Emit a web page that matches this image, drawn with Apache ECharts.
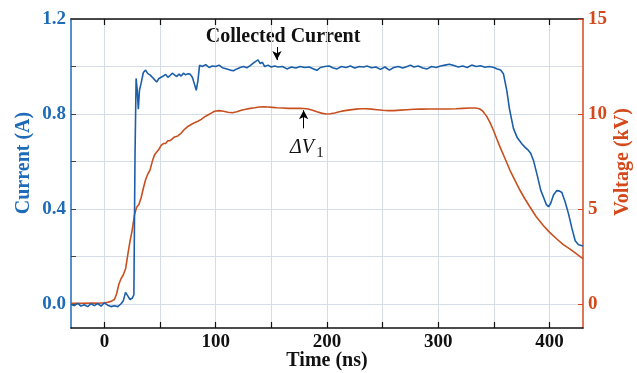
<!DOCTYPE html>
<html>
<head>
<meta charset="utf-8">
<script src="https://cdn.jsdelivr.net/npm/echarts@6/dist/echarts.min.js"></script>
<style>
  html, body { margin: 0; padding: 0; background: #fff; }
  #chart { width: 637px; height: 373px; }
</style>
</head>
<body>
<div id="chart"></div>
<script>
// collected current (A) vs time (ns)
const currentTime = [
  -30, -27, -24, -21, -18, -15, -12, -9, -6, -3, 0, 3, 6, 9, 12, 15, 17, 19, 21, 23, 25, 26.5,
  27.5, 28.5, 29.5, 30.5, 31.5, 33, 35, 37, 39, 41, 43, 45, 47, 49, 51, 53, 55, 57, 59, 61, 63,
  65, 67, 69, 71, 73, 75, 77, 79, 81, 82.5, 84, 85.5, 88, 91, 94, 97, 100, 103, 106, 110, 113,
  116, 119, 122, 125, 128, 131, 134, 136, 138, 140, 142, 144, 147, 150, 153, 156, 160, 164, 168,
  172, 176, 180, 184, 188, 191, 194, 198, 202, 205, 209, 213, 217, 221, 225, 229, 233, 236, 240,
  244, 248, 252, 256, 260, 264, 268, 272, 275, 278, 282, 286, 290, 294, 298, 302, 306, 310, 314,
  318, 322, 326, 330, 334, 338, 342, 346, 350, 353, 356, 358.5, 361.5, 364, 367.5, 371, 375, 378,
  381, 383, 385.5, 389, 392, 394.5, 397, 399, 401, 403.5, 406.5, 409, 411, 414, 417, 420, 423, 426, 430
];
const currentValue = [
  0.000, -0.006, 0.004, -0.008, -0.002, -0.010, 0.002, -0.006, 0.003, -0.008, 0.006, -0.004, -0.010,
  -0.006, -0.010, 0.002, 0.015, 0.050, 0.035, 0.020, 0.025, 0.040,
  0.62, 0.95, 0.90, 0.82, 0.90, 0.93, 0.975, 0.985, 0.970, 0.965, 0.955, 0.945, 0.935, 0.950, 0.955,
  0.960, 0.967, 0.955, 0.962, 0.972, 0.965, 0.958, 0.968, 0.960, 0.972, 0.965, 0.970, 0.968, 0.955,
  0.925, 0.900, 0.940, 1.005, 1.000, 1.008, 0.996, 1.002, 1.000, 1.006, 0.995, 0.990, 0.985,
  0.982, 0.990, 0.996, 1.000, 0.995, 1.004, 1.015, 1.022, 1.028, 1.012, 1.018, 1.000, 1.006, 0.998,
  1.002, 0.998, 1.000, 0.990, 0.998, 0.994, 1.000, 0.996, 0.998, 0.990, 0.984, 0.996, 1.000, 1.002,
  0.995, 0.990, 1.000, 0.996, 1.002, 0.994, 1.000, 0.998, 1.002, 0.995, 0.998, 0.988, 0.998, 0.985,
  0.996, 1.000, 0.994, 1.000, 1.006, 0.998, 1.002, 0.994, 0.990, 1.000, 0.996, 1.002, 1.006, 1.010,
  1.004, 0.998, 1.002, 0.996, 1.006, 1.000, 1.003, 0.997, 1.000, 0.996, 0.990, 0.985, 0.970, 0.900,
  0.820, 0.740, 0.700, 0.675, 0.660, 0.647, 0.635, 0.605, 0.540, 0.480, 0.450, 0.420, 0.410, 0.425,
  0.460, 0.478, 0.476, 0.470, 0.430, 0.380, 0.320, 0.267, 0.250, 0.245
];

// voltage (kV) vs time (ns)
const voltageTime = [
  -30, -20, -10, -5, 0, 3, 6, 9, 11, 13, 15, 17, 19, 21, 23, 25, 27, 29, 31, 33, 35, 37, 39, 41,
  43, 45, 47, 49, 51, 53, 55, 57, 59, 61, 63, 66, 69, 72, 75, 78, 81, 84, 87, 90, 93, 96, 99, 103,
  107, 111, 115, 119, 123, 127, 131, 135, 139, 143, 147, 151, 155, 160, 165, 170, 175, 179, 183,
  187, 191, 195, 199, 203, 207, 211, 216, 221, 226, 230, 235, 240, 245, 250, 255, 260, 266, 272,
  278, 285, 292, 300, 308, 316, 322, 328, 333, 337, 340, 343.5, 346.5, 349.5, 352.5, 355.5, 360,
  364.5, 369, 373.5, 378, 382.5, 388, 394.5, 400, 406.5, 412, 418.4, 423, 427.4, 430
];
const voltageValue = [
  0.05, 0.05, 0.06, 0.05, 0.08, 0.10, 0.15, 0.25, 0.55, 1.05, 1.35, 1.55, 1.85, 2.6, 3.3, 3.9, 4.7,
  5.1, 5.25, 5.6, 6.1, 6.55, 6.85, 7.05, 7.5, 7.85, 8.0, 8.15, 8.35, 8.45, 8.45, 8.6, 8.6, 8.7, 8.8,
  8.85, 9.0, 9.2, 9.35, 9.45, 9.55, 9.62, 9.72, 9.85, 9.95, 10.05, 10.15, 10.18, 10.15, 10.1, 10.07,
  10.12, 10.2, 10.25, 10.3, 10.33, 10.37, 10.38, 10.37, 10.35, 10.33, 10.32, 10.3, 10.3, 10.3, 10.29,
  10.27, 10.2, 10.12, 10.05, 10.0, 10.02, 10.06, 10.12, 10.18, 10.22, 10.26, 10.28, 10.28, 10.26,
  10.23, 10.2, 10.18, 10.18, 10.21, 10.23, 10.25, 10.26, 10.27, 10.27, 10.27, 10.28, 10.3, 10.32,
  10.32, 10.28, 10.15, 9.88, 9.55, 9.15, 8.7, 8.26, 7.65, 7.03, 6.5, 5.98, 5.52, 5.1, 4.6, 4.13,
  3.78, 3.43, 3.15, 2.9, 2.7, 2.5, 2.4
];

const timeTicks = [0, 50, 100, 150, 200, 250, 300, 350, 400];
const timeLabels = [0, 100, 200, 300, 400];
const currentTicks = [0, 0.2, 0.4, 0.6, 0.8, 1.0, 1.2];
const currentLabels = [0, 0.4, 0.8, 1.2];
const voltageTicks = [0, 5, 10, 15];

const SERIF = '"Liberation Serif", "Times New Roman", serif';
const BLUE = '#1e6bb8';
const BLUE_LINE = '#1b5fa8';
const ORANGE = '#d4491c';
const ORANGE_LINE = '#c8501f';
const GRID = '#d6dce6';

const chart = echarts.init(document.getElementById('chart'));

const zip = (xs, ys) => xs.map((x, i) => [x, ys[i]]);

chart.setOption({
  backgroundColor: '#fff',
  animation: false,
  grid: { left: 71, right: 54, top: 19, bottom: 45, outerBoundsMode: 'none' },
  xAxis: [
    {
      type: 'value',
      min: -30,
      max: 430,
      position: 'bottom',
      axisLine: { onZero: false, lineStyle: { color: '#111', width: 1.5 } },
      axisTick: { inside: true, length: 6, customValues: timeTicks, lineStyle: { color: '#111', width: 1.2 } },
      axisLabel: {
        customValues: timeLabels,
        margin: 5,
        color: '#111',
        fontFamily: SERIF,
        fontWeight: 'bold',
        fontSize: 19,
      },
      splitLine: { show: true, lineStyle: { color: GRID, width: 1 } },
    },
    {
      type: 'value',
      min: -30,
      max: 430,
      position: 'top',
      axisLine: { onZero: false, lineStyle: { color: '#111', width: 1.5 } },
      axisTick: { inside: true, length: 6, customValues: timeTicks, lineStyle: { color: '#111', width: 1.2 } },
      axisLabel: { show: false },
      splitLine: { show: false },
    },
  ],
  yAxis: [
    {
      type: 'value',
      min: -0.1,
      max: 1.2,
      position: 'left',
      axisLine: { show: true, onZero: false, lineStyle: { color: BLUE, width: 1.5 } },
      axisTick: { show: true, inside: true, length: 5, customValues: currentTicks, lineStyle: { color: '#444' } },
      axisLabel: {
        customValues: currentLabels,
        margin: 5,
        color: BLUE,
        fontFamily: SERIF,
        fontWeight: 'bold',
        fontSize: 19,
        formatter: (v) => v.toFixed(1),
      },
      splitLine: { show: true, lineStyle: { color: GRID, width: 1 } },
    },
    {
      type: 'value',
      min: -1.25,
      max: 15,
      position: 'right',
      axisLine: { show: true, onZero: false, lineStyle: { color: ORANGE, width: 1.5 } },
      axisTick: { show: true, inside: true, length: 5, customValues: voltageTicks, lineStyle: { color: ORANGE } },
      axisLabel: {
        customValues: voltageTicks,
        margin: 5,
        color: ORANGE,
        fontFamily: SERIF,
        fontWeight: 'bold',
        fontSize: 19,
      },
      splitLine: { show: false },
    },
  ],
  series: [
    {
      name: 'Voltage',
      type: 'line',
      yAxisIndex: 1,
      data: zip(voltageTime, voltageValue),
      showSymbol: false,
      lineStyle: { color: ORANGE_LINE, width: 1.6 },
      z: 3,
      markLine: {
        silent: true,
        symbol: ['none', 'arrow'],
        symbolSize: [7, 9],
        label: { show: false },
        lineStyle: { color: '#000', width: 1, type: 'solid' },
        data: [[{ coord: [179, 9.25] }, { coord: [179, 10.2] }]],
      },
    },
    {
      name: 'Collected Current',
      type: 'line',
      yAxisIndex: 0,
      data: zip(currentTime, currentValue),
      showSymbol: false,
      lineStyle: { color: BLUE_LINE, width: 1.6 },
      z: 4,
      markLine: {
        silent: true,
        symbol: ['none', 'arrow'],
        symbolSize: [7, 9],
        label: { show: false },
        lineStyle: { color: '#000', width: 1, type: 'solid' },
        data: [[{ coord: [155, 1.082] }, { coord: [155, 1.027] }]],
      },
    },
  ],
  graphic: [
    {
      type: 'text', x: 24, y: 163, rotation: Math.PI / 2,
      style: { text: 'Current (A)', fill: BLUE, font: 'bold 20px ' + SERIF, align: 'center', verticalAlign: 'middle' },
    },
    {
      type: 'text', x: 623, y: 162, rotation: Math.PI / 2,
      style: { text: 'Voltage (kV)', fill: ORANGE, font: 'bold 20px ' + SERIF, align: 'center', verticalAlign: 'middle' },
    },
    {
      type: 'text', x: 327, y: 361,
      style: { text: 'Time (ns)', fill: '#111', font: 'bold 20px ' + SERIF, align: 'center', verticalAlign: 'middle' },
    },
    {
      type: 'text', x: 283, y: 37,
      style: { text: 'Collected Current', fill: '#111', font: 'bold 20px ' + SERIF, align: 'center', verticalAlign: 'middle' },
    },
    {
      type: 'text', x: 302, y: 148,
      style: { text: 'ΔV', fill: '#111', font: 'italic 20px ' + SERIF, align: 'center', verticalAlign: 'middle' },
    },
    {
      type: 'text', x: 320, y: 153,
      style: { text: '1', fill: '#111', font: '15px ' + SERIF, align: 'center', verticalAlign: 'middle' },
    },
  ],
});
</script>
</body>
</html>
